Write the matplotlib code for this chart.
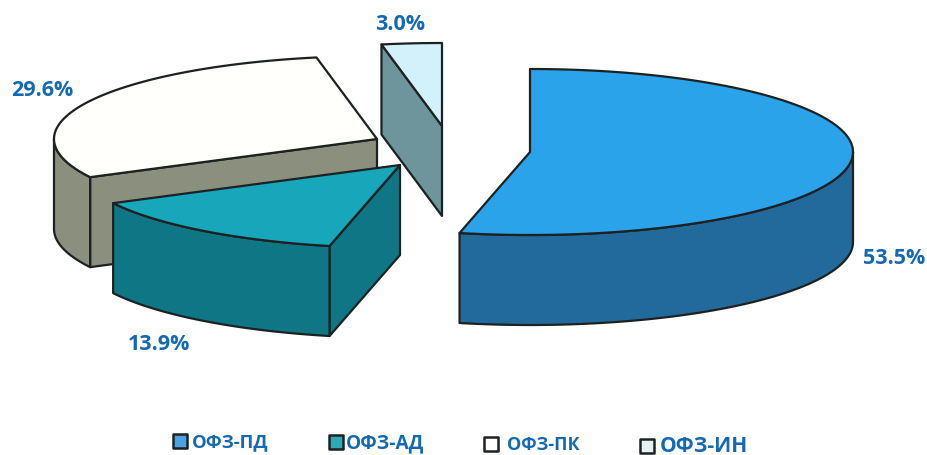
# Exploded 3D-look pie chart of OFZ shares

import matplotlib.pyplot as plt
import numpy as np

# Data
names = ['ОФЗ-ПД', 'ОФЗ-АД', 'ОФЗ-ПК', 'ОФЗ-ИН']
shares = [53.5, 13.9, 29.6, 3.0]
labels = ['53.5%', '13.9%', '29.6%', '3.0%']

# Styles, same order as the data
top_colors = ['#2aa3ea', '#17a6ba', '#fffffb', '#d3f1fb']
side_colors = ['#236a9c', '#0f7686', '#8b8f7d', '#6e959b']
legend_colors = ['#4aa3e2', '#2baab8', '#ffffff', '#e4f2f2']
text_color = '#1469b4'
edge_color = '#1c2222'

# Pie geometry in pixels
center = (440, 150)
explode = [(90, 3), (-40, 16), (-63, -10), (2, -23)]
rx, ry = 323, 83
depth = 90
label_pos = [(894, 259), (159, 345), (42, 90), (400, 24)]
legend_y = [442, 443, 445, 447]
legend_box_x = [180, 336, 491, 647]
legend_text_x = [192, 346, 507, 660]
legend_size = [13.3, 13.8, 13, 15]


def rim(cx, cy, a0, a1):
    # Points on the ellipse, angle in degrees clockwise from the top
    t = np.radians(np.linspace(a0, a1, max(int(abs(a1 - a0)) * 2, 2)))
    return np.column_stack([cx + rx * np.sin(t), cy - ry * np.cos(t)])


def wall(points):
    # Closed band between a top outline and the same outline lowered by depth
    lowered = points[::-1] + [0, depth]
    return np.vstack([points, lowered])


def draw_slice(ax, i, a0, a1):
    cx = center[0] + explode[i][0]
    cy = center[1] + explode[i][1]
    apex = np.array([[cx, cy]])
    style = dict(facecolor=side_colors[i], edgecolor=edge_color,
                 linewidth=1.6, joinstyle='round')

    # Cut face at the slice start, if it turns towards the viewer
    if 180 < a0 < 270 or a0 > 300:
        ax.fill(*wall(np.vstack([apex, rim(cx, cy, a0, a0)[:1]])).T, **style)

    # Outer wall, only the front half of the ellipse shows
    lo, hi = max(a0, 90), min(a1, 270)
    if hi > lo:
        ax.fill(*wall(rim(cx, cy, lo, hi)).T, **style)

    # Top face
    top = np.vstack([apex, rim(cx, cy, a0, a1)])
    ax.fill(*top.T, facecolor=top_colors[i], edgecolor=edge_color,
            linewidth=1.6, joinstyle='round')


fig = plt.figure(figsize=(9.28, 4.56), dpi=100)
ax = fig.add_axes([0, 0, 1, 1])
ax.set_xlim(0, 928)
ax.set_ylim(456, 0)
ax.axis('off')

# Angles come from the shares, first slice starts at the top
edges = np.concatenate([[0], np.cumsum(shares)]) / sum(shares) * 360

# Back slices first so the front ones cover them
for i in [2, 3, 1, 0]:
    draw_slice(ax, i, edges[i], edges[i + 1])

for i, txt in enumerate(labels):
    ax.text(label_pos[i][0], label_pos[i][1], txt, color=text_color,
            fontsize=15.5, fontweight='bold', family='Open Sans',
            ha='center', va='center')

# Legend
for i, name in enumerate(names):
    ax.scatter(legend_box_x[i], legend_y[i], s=95, marker='s',
               facecolor=legend_colors[i], edgecolor='#1c2222', linewidth=1.8)
    ax.text(legend_text_x[i], legend_y[i], name, color=text_color,
            fontsize=legend_size[i], fontweight='bold', family='Open Sans',
            ha='left', va='center')

plt.savefig('out.png', dpi=100)
